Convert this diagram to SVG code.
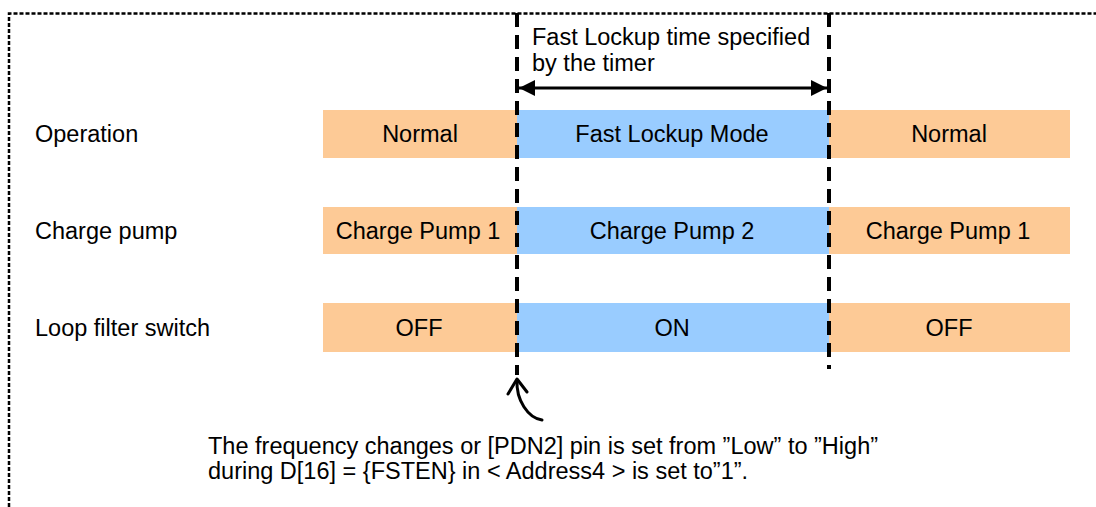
<svg xmlns="http://www.w3.org/2000/svg" width="1096" height="507" viewBox="0 0 1096 507">
<defs>
<style>
text{font-family:"Liberation Sans",Arial,sans-serif;font-size:23.5px;fill:#000}
.c{text-anchor:middle}
.o{fill:#fdca96}
.b{fill:#99ccff}
.vd{stroke:#000;stroke-width:4;stroke-dasharray:14 8;fill:none}
</style>
<marker id="ah" viewBox="0 0 16 16" refX="16" refY="8" markerWidth="16" markerHeight="16" markerUnits="userSpaceOnUse" orient="auto-start-reverse">
<path d="M0,0 L16,8 L0,16 Z" fill="#000"/>
</marker>
</defs>
<rect width="1096" height="507" fill="#fff"/>
<path d="M9,507 V13.5 H1096" fill="none" stroke="#000" stroke-width="2.5" stroke-dasharray="4 2"/>
<g id="labels">
<text x="35" y="142">Operation</text>
<text x="35" y="239">Charge pump</text>
<text x="35" y="336">Loop filter switch</text>
</g>
<g id="op-normal1"><rect class="o" x="323" y="110" width="194" height="48"/><text class="c" x="420" y="142">Normal</text></g>
<g id="op-fast"><rect class="b" x="517" y="110" width="312" height="48"/><text class="c" x="672" y="142">Fast Lockup Mode</text></g>
<g id="op-normal2"><rect class="o" x="829" y="110" width="241" height="48"/><text class="c" x="949" y="142">Normal</text></g>
<g id="cp1a"><rect class="o" x="323" y="207" width="194" height="47"/><text class="c" x="418" y="239">Charge Pump 1</text></g>
<g id="cp2"><rect class="b" x="517" y="207" width="312" height="47"/><text class="c" x="672" y="239">Charge Pump 2</text></g>
<g id="cp1b"><rect class="o" x="829" y="207" width="241" height="47"/><text class="c" x="948" y="239">Charge Pump 1</text></g>
<g id="lf-off1"><rect class="o" x="323" y="303" width="194" height="49"/><text class="c" x="419" y="336">OFF</text></g>
<g id="lf-on"><rect class="b" x="517" y="303" width="312" height="49"/><text class="c" x="672" y="336">ON</text></g>
<g id="lf-off2"><rect class="o" x="829" y="303" width="241" height="49"/><text class="c" x="949" y="336">OFF</text></g>
<g id="connectors">
<line class="vd" x1="517" y1="13" x2="517" y2="375"/>
<line class="vd" x1="829" y1="13" x2="829" y2="369"/>
<line x1="519" y1="88" x2="827" y2="88" stroke="#000" stroke-width="3" marker-start="url(#ah)" marker-end="url(#ah)"/>
<path d="M542,420 C528,418 516,400 517,380" fill="none" stroke="#000" stroke-width="3" stroke-linecap="round"/>
<path d="M508,394 L517,379 L527,392" fill="none" stroke="#000" stroke-width="3" stroke-linecap="round" stroke-linejoin="round"/>
</g>
<g id="timer-label">
<text x="532" y="45">Fast Lockup time specified</text>
<text x="532" y="71">by the timer</text>
</g>
<g id="note">
<text x="208" y="454">The frequency changes or [PDN2] pin is set from ”Low” to ”High”</text>
<text x="208" y="479">during D[16] = {FSTEN} in &lt; Address4 &gt; is set to”1”.</text>
</g>
</svg>
